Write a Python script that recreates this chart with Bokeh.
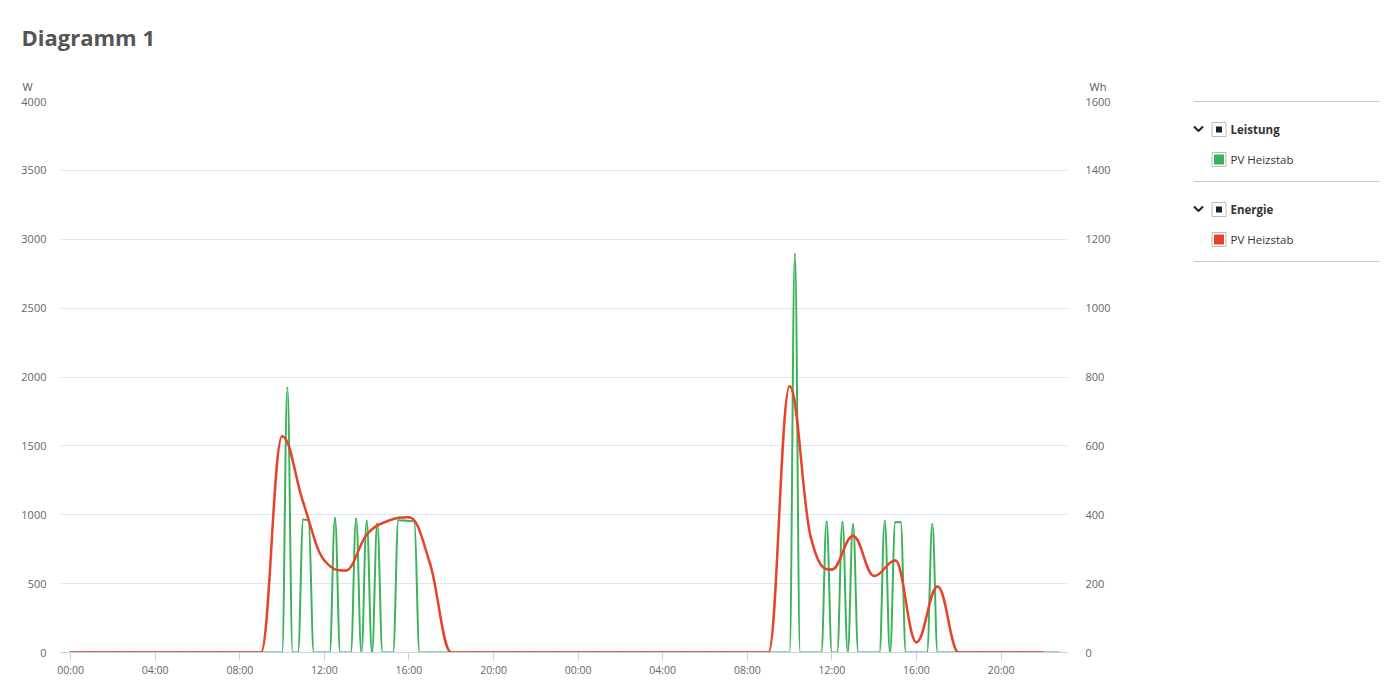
from bokeh.plotting import figure
from bokeh.models import Range1d, LinearAxis, FixedTicker, ColumnDataSource
from bokeh.layouts import row, column
from bokeh.embed import file_html
from bokeh.resources import INLINE
from bokeh.core.properties import value

TITLE = "Diagramm 1"
LEFT_UNIT = "W"
RIGHT_UNIT = "Wh"

x_tick_hours = [0, 4, 8, 12, 16, 20, 24, 28, 32, 36, 40, 44]
x_tick_labels = ["00:00", "04:00", "08:00", "12:00", "16:00", "20:00",
                 "00:00", "04:00", "08:00", "12:00", "16:00", "20:00"]
w_ticks = [0, 500, 1000, 1500, 2000, 2500, 3000, 3500, 4000]
wh_ticks = [0, 200, 400, 600, 800, 1000, 1200, 1400, 1600]

# Leistung (W), 15-minute values, day 1 00:00 .. 23:45
power_day1 = [
    0, 0, 0, 0,        # 00
    0, 0, 0, 0,        # 01
    0, 0, 0, 0,        # 02
    0, 0, 0, 0,        # 03
    0, 0, 0, 0,        # 04
    0, 0, 0, 0,        # 05
    0, 0, 0, 0,        # 06
    0, 0, 0, 0,        # 07
    0, 0, 0, 0,        # 08
    0, 0, 0, 0,        # 09
    0, 1921, 0, 0,     # 10
    965, 958, 0, 0,    # 11
    0, 0, 975, 0,      # 12
    0, 0, 970, 0,      # 13
    953, 0, 934, 0,    # 14
    0, 0, 960, 958,    # 15
    955, 952, 0, 0,    # 16
    0, 0, 0, 0,        # 17
    0, 0, 0, 0,        # 18
    0, 0, 0, 0,        # 19
    0, 0, 0, 0,        # 20
    0, 0, 0, 0,        # 21
    0, 0, 0, 0,        # 22
    0, 0, 0, 0,        # 23
]
# Leistung (W), 15-minute values, day 2 00:00 .. 22:45
power_day2 = [
    0, 0, 0, 0,        # 00
    0, 0, 0, 0,        # 01
    0, 0, 0, 0,        # 02
    0, 0, 0, 0,        # 03
    0, 0, 0, 0,        # 04
    0, 0, 0, 0,        # 05
    0, 0, 0, 0,        # 06
    0, 0, 0, 0,        # 07
    0, 0, 0, 0,        # 08
    0, 0, 0, 0,        # 09
    0, 2890, 0, 0,     # 10
    0, 0, 0, 950,      # 11
    0, 0, 946, 0,      # 12
    929, 0, 0, 0,      # 13
    0, 0, 953, 0,      # 14
    946, 946, 0, 0,    # 15
    0, 0, 0, 929,      # 16
    0, 0, 0, 0,        # 17
    0, 0, 0, 0,        # 18
    0, 0, 0, 0,        # 19
    0, 0, 0, 0,        # 20
    0, 0, 0, 0,        # 21
    0, 0, 0, 0,        # 22
]
# Energie (Wh), hourly values, day 1 00:00 .. 23:00
energy_day1 = [0, 0, 0, 0, 0, 0, 0, 0, 0, 0,
               628, 435, 267, 238, 342, 382, 393, 257,
               0, 0, 0, 0, 0, 0]
# Energie (Wh), hourly values, day 2 00:00 .. 22:00
energy_day2 = [0, 0, 0, 0, 0, 0, 0, 0, 0, 0,
               773, 335, 241, 338, 222, 267, 30, 192,
               0, 0, 0, 0, 0]

legend_groups = ["Leistung", "Energie"]
legend_series = ["PV Heizstab", "PV Heizstab"]

GREEN = "#3cb35a"
RED = "#e6432b"
FONT = "Open Sans"

TOTAL_W = 1390
HEADER_H = 93
MAIN_W = 1180
BODY_H = 597
FRAME_TOP = 101          # page y of the plot frame top
FRAME_H = 551
FRAME_LEFT = 60
FRAME_W = 1008


def spline_segments(xs, ys, smoothing=1.5):
    """Bezier control points like a Highcharts 'spline' series."""
    n = len(xs)
    denom = smoothing + 1
    lcx, lcy = list(xs), list(ys)
    rcx, rcy = list(xs), list(ys)
    for i in range(1, n - 1):
        px, py = xs[i], ys[i]
        lx, ly = xs[i - 1], ys[i - 1]
        nx, ny = xs[i + 1], ys[i + 1]
        a_x = (smoothing * px + lx) / denom
        a_y = (smoothing * py + ly) / denom
        b_x = (smoothing * px + nx) / denom
        b_y = (smoothing * py + ny) / denom
        corr = 0.0
        if b_x != a_x:
            corr = (b_y - a_y) * (b_x - px) / (b_x - a_x) + py - b_y
        a_y += corr
        b_y += corr
        if a_y > ly and a_y > py:
            a_y = max(ly, py)
            b_y = 2 * py - a_y
        elif a_y < ly and a_y < py:
            a_y = min(ly, py)
            b_y = 2 * py - a_y
        if b_y > ny and b_y > py:
            b_y = max(ny, py)
            a_y = 2 * py - b_y
        elif b_y < ny and b_y < py:
            b_y = min(ny, py)
            a_y = 2 * py - b_y
        lcx[i], lcy[i], rcx[i], rcy[i] = a_x, a_y, b_x, b_y
    return dict(
        x0=xs[:-1], y0=ys[:-1], x1=xs[1:], y1=ys[1:],
        cx0=rcx[:-1], cy0=rcy[:-1], cx1=lcx[1:], cy1=lcy[1:],
    )


def blank_panel(width, height, x0, x1, y_top, y_bottom):
    f = figure(width=width, height=height, x_range=Range1d(x0, x1),
               y_range=Range1d(y_bottom, y_top), output_backend="svg",
               toolbar_location=None, min_border=0,
               x_axis_type=None, y_axis_type=None)
    f.frame_align = False
    f.outline_line_color = None
    f.background_fill_color = "white"
    f.border_fill_color = "white"
    return f


power = power_day1 + power_day2
power_x = [i * 0.25 for i in range(len(power))]
energy = energy_day1 + energy_day2
energy_x = [float(i) for i in range(len(energy))]

# ---- header: title and unit captions (page pixel coordinates) ----
hdr = blank_panel(TOTAL_W, HEADER_H, 0, TOTAL_W, 0, HEADER_H)
hdr.text(x=[21], y=[36], text=[TITLE], text_font=value(FONT), text_font_size="22px",
         text_font_style="bold", text_color="#555555", text_baseline="middle")
hdr.text(x=[22, 1089], y=[85.5, 85.5], text=[LEFT_UNIT, RIGHT_UNIT], text_font=value(FONT),
         text_font_size="11px", text_color="#555555", text_baseline="middle")

# ---- main chart ----
p = figure(width=MAIN_W, height=BODY_H,
           x_range=Range1d(-0.48, 47.19), y_range=Range1d(0, 4000),
           output_backend="svg", toolbar_location=None,
           min_border_left=FRAME_LEFT, min_border_right=MAIN_W - FRAME_LEFT - FRAME_W,
           min_border_top=FRAME_TOP - HEADER_H,
           min_border_bottom=BODY_H - (FRAME_TOP - HEADER_H) - FRAME_H)
p.outline_line_color = None
p.background_fill_color = "white"
p.border_fill_color = "white"
p.extra_y_ranges = {"wh": Range1d(0, 1600)}

p.xgrid.visible = False
p.ygrid.ticker = FixedTicker(ticks=w_ticks)
p.ygrid.grid_line_color = "#dbe7f2"
p.ygrid.grid_line_width = 1

xa = p.xaxis[0]
xa.ticker = FixedTicker(ticks=x_tick_hours)
xa.major_label_overrides = {h: lab for h, lab in zip(x_tick_hours, x_tick_labels)}
xa.axis_line_color = "#c8d4e6"
xa.major_tick_line_color = "#c8d4e6"
xa.major_tick_out = 8
xa.major_tick_in = 0
xa.minor_tick_line_color = None
xa.major_label_standoff = 2
xa.major_label_text_font = FONT
xa.major_label_text_font_size = "10.5px"
xa.major_label_text_color = "#666666"

ya = p.yaxis[0]
ya.ticker = FixedTicker(ticks=w_ticks)
ya.axis_line_color = None
ya.major_tick_line_color = None
ya.minor_tick_line_color = None
ya.major_tick_out = 0
ya.major_tick_in = 0
ya.major_label_standoff = 14
ya.major_label_text_font = FONT
ya.major_label_text_font_size = "11px"
ya.major_label_text_color = "#666666"

ra = LinearAxis(y_range_name="wh", ticker=FixedTicker(ticks=wh_ticks))
ra.axis_line_color = None
ra.major_tick_line_color = None
ra.minor_tick_line_color = None
ra.major_tick_out = 0
ra.major_tick_in = 0
ra.major_label_standoff = 17
ra.major_label_text_font = FONT
ra.major_label_text_font_size = "11px"
ra.major_label_text_color = "#666666"
p.add_layout(ra, "right")

p.bezier(source=ColumnDataSource(spline_segments(power_x, power)),
         x0="x0", y0="y0", x1="x1", y1="y1", cx0="cx0", cy0="cy0", cx1="cx1", cy1="cy1",
         line_color=GREEN, line_width=2, line_cap="round")
p.bezier(source=ColumnDataSource(spline_segments(energy_x, energy)),
         x0="x0", y0="y0", x1="x1", y1="y1", cx0="cx0", cy0="cy0", cx1="cx1", cy1="cy1",
         line_color=RED, line_width=2.5, line_cap="round", y_range_name="wh")

# ---- legend panel (page pixel coordinates) ----
lg = blank_panel(TOTAL_W - MAIN_W, BODY_H, MAIN_W, TOTAL_W, HEADER_H, HEADER_H + BODY_H)

sep_y = [101, 181, 261]
lg.segment(x0=[1193] * 3, x1=[1379] * 3, y0=sep_y, y1=sep_y, line_color="#cccccc", line_width=1)
group_y = [129, 209]
series_y = [159, 239]
series_colors = [GREEN, RED]
lg.multi_line(xs=[[1193.5, 1198, 1202.5] for _ in group_y],
              ys=[[gy - 3, gy + 1.5, gy - 3] for gy in group_y],
              line_color="#222222", line_width=2)
box_y = group_y + series_y
lg.rect(x=[1218.5] * 4, y=box_y, width=14, height=14,
        fill_color="white", line_color="#bbbbbb", line_width=1)
lg.rect(x=[1218.5] * 2, y=group_y, width=6, height=6, fill_color="#222222", line_color=None)
lg.rect(x=[1218.5] * 2, y=series_y, width=10, height=10, fill_color=series_colors, line_color=None)
lg.text(x=[1230] * 2, y=group_y, text=legend_groups, text_font=value(FONT),
        text_font_size="11.5px", text_font_style="bold", text_color="#333333",
        text_baseline="middle", text_align="left")
lg.text(x=[1230] * 2, y=series_y, text=legend_series, text_font=value(FONT),
        text_font_size="11.5px", text_color="#333333",
        text_baseline="middle", text_align="left")

layout = column(hdr, row(p, lg, spacing=0), spacing=0)
open("out.html", "w").write(file_html(layout, INLINE))
